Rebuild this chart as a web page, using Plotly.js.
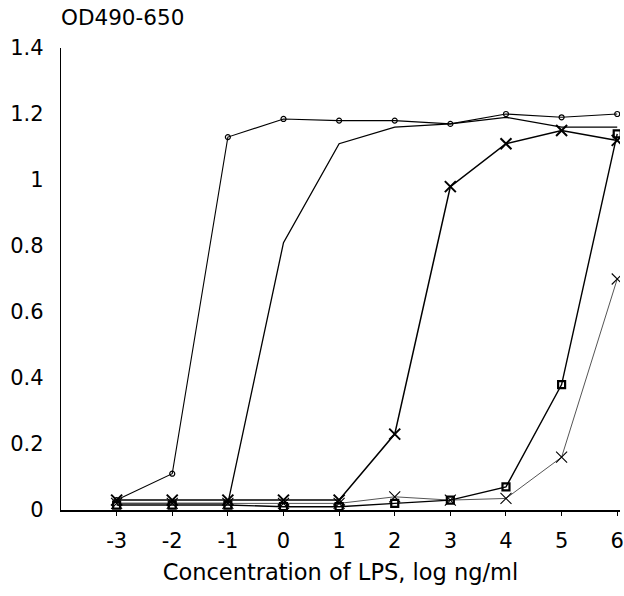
<!DOCTYPE html>
<html>
<head>
<meta charset="utf-8">
<script src="https://cdn.plot.ly/plotly-3.0.1.min.js"></script>
<style>html,body{margin:0;padding:0;background:#fff;}</style>
</head>
<body>
<div id="chart" style="width:624px;height:596px;"></div>
<script>
// log10 LPS concentration (ng/ml)
const logConc = [-3, -2, -1, 0, 1, 2, 3, 4, 5, 6];
const xTickVals = [-3, -2, -1, 0, 1, 2, 3, 4, 5, 6];
const xTickText = ["-3", "-2", "-1", "0", "1", "2", "3", "4", "5", "6"];
const yTickVals = [0, 0.2, 0.4, 0.6, 0.8, 1, 1.2, 1.4];
const yTickText = ["0", "0.2", "0.4", "0.6", "0.8", "1", "1.2", "1.4"];

// OD490-650 for each series
const seriesCircle = [0.03, 0.11, 1.13, 1.185, 1.18, 1.18, 1.17, 1.20, 1.19, 1.20];
const seriesPlain  = [0.02, 0.02, 0.02, 0.81, 1.11, 1.16, 1.17, 1.19, 1.16, 1.16];
const seriesX      = [0.03, 0.03, 0.03, 0.03, 0.03, 0.23, 0.98, 1.11, 1.15, 1.12];
const seriesSquare = [0.015, 0.015, 0.015, 0.01, 0.01, 0.02, 0.03, 0.07, 0.38, 1.14];
const seriesThinX  = [0.02, 0.02, 0.02, 0.02, 0.02, 0.04, 0.03, 0.035, 0.16, 0.70];

const FONT = "DejaVu Sans, Liberation Sans, Arial, sans-serif";

const traces = [
  {x: logConc, y: seriesPlain, mode: "lines", line: {color: "#000", width: 1.3}},
  {x: logConc, y: seriesCircle, mode: "lines+markers", line: {color: "#000", width: 1.1},
   marker: {symbol: "circle-open", size: 5, color: "#000", line: {width: 1.2}}},
  {x: logConc, y: seriesThinX, mode: "lines+markers", line: {color: "#555", width: 1},
   marker: {symbol: "x-thin", size: 11, color: "#000", line: {width: 1.1, color: "#000"}}},
  {x: logConc, y: seriesSquare, mode: "lines+markers", line: {color: "#000", width: 1.4},
   marker: {symbol: "square-open", size: 7, color: "#000", line: {width: 2.2, color: "#000"}}},
  {x: logConc, y: seriesX, mode: "lines+markers", line: {color: "#000", width: 1.5},
   marker: {symbol: "x-thin", size: 11, color: "#000", line: {width: 2, color: "#000"}}}
];

const layout = {
  width: 624, height: 596,
  margin: {l: 61, r: 4, t: 48, b: 86},
  paper_bgcolor: "#fff", plot_bgcolor: "#fff",
  showlegend: false,
  font: {family: FONT, size: 21, color: "#000"},
  xaxis: {
    range: [-4, 6.05], showgrid: false, zeroline: false,
    showline: true, linecolor: "#000", linewidth: 1.5,
    tickmode: "array", tickvals: xTickVals, ticktext: xTickText,
    ticks: "outside", ticklen: 4, tickwidth: 1, tickcolor: "#000",
    ticklabelstandoff: 7,
    tickfont: {family: FONT, size: 21, color: "#000"},
    title: {text: "Concentration of LPS, log ng/ml", font: {family: FONT, size: 22.5, color: "#000"}, standoff: 12}
  },
  yaxis: {
    range: [0, 1.4], showgrid: false, zeroline: false,
    showline: true, linecolor: "#000", linewidth: 1.2,
    tickmode: "array", tickvals: yTickVals, ticktext: yTickText,
    ticks: "", ticklabelstandoff: 12,
    tickfont: {family: FONT, size: 21, color: "#000"}
  },
  annotations: [{
    text: "OD490-650", xref: "paper", yref: "paper", x: 0, y: 1,
    xanchor: "left", yanchor: "bottom", yshift: 16, xshift: -2, showarrow: false,
    font: {family: FONT, size: 21.5, color: "#000"}
  }]
};

Plotly.newPlot("chart", traces, layout, {displayModeBar: false, staticPlot: true});
</script>
</body>
</html>
